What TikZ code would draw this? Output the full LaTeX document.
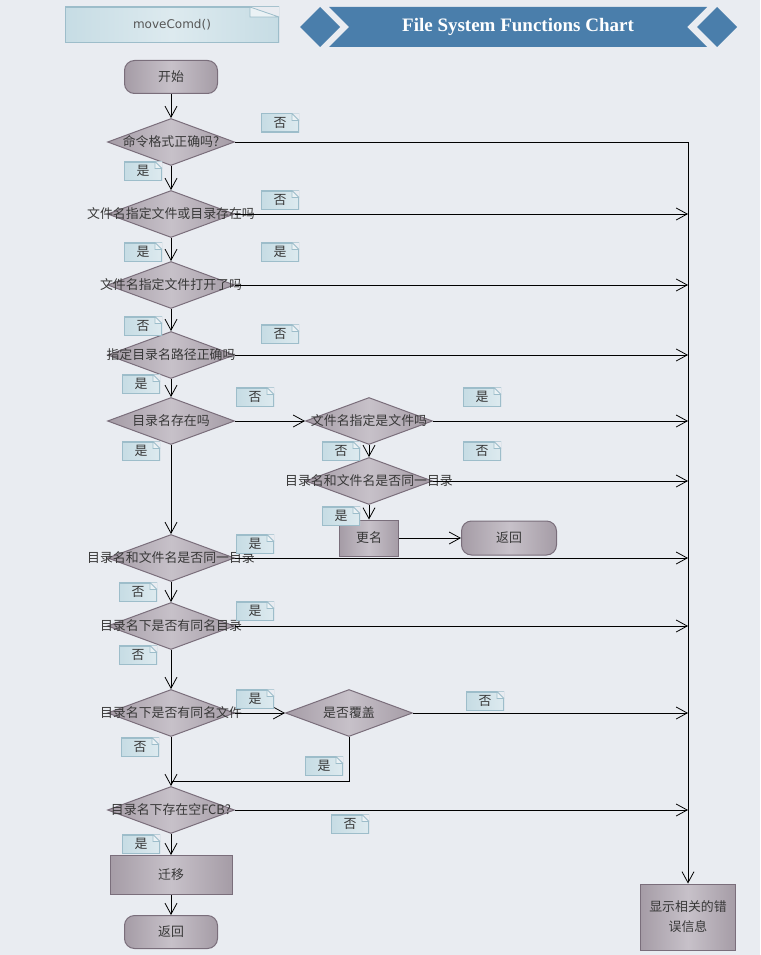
\documentclass[tikz,border=0pt]{standalone}
\usepackage{fontspec}
\newfontfamily\cjkfont{Noto Sans CJK SC}
\newfontfamily\headfont{Liberation Serif}
\newfontfamily\memofont{DejaVu Sans}
\usetikzlibrary{shapes.geometric}
\usetikzlibrary{arrows.meta}

\definecolor{pagebg}{HTML}{E9ECF1}
\definecolor{shapeA}{HTML}{A59CA6}
\definecolor{shapeB}{HTML}{C7C1C9}
\definecolor{shapeedge}{HTML}{7A6E7B}
\definecolor{tagA}{HTML}{C6DCE4}
\definecolor{tagB}{HTML}{DDEAEF}
\definecolor{tagedge}{HTML}{9DBDCA}
\definecolor{inktext}{HTML}{383838}
\definecolor{titleblue}{HTML}{4A7EAB}

\tikzset{
  folded/.style 2 args={path picture={
    \draw[tagedge, line width=2pt] (path picture bounding box.south west) rectangle (path picture bounding box.north east);
    \fill[pagebg] ([xshift=-#1]path picture bounding box.north east) -- (path picture bounding box.north east) -- ([yshift=-#2]path picture bounding box.north east) -- cycle;
    \filldraw[draw=tagedge, fill=tagB!60!white, line width=0.8pt] ([xshift=-#1]path picture bounding box.north east) |- ([yshift=-#2]path picture bounding box.north east) -- cycle;
  }},
  cjk/.style={font=\cjkfont\fontsize{12.9}{15}\selectfont, text=inktext},
  decision/.style={diamond, draw=shapeedge, minimum width=127pt, minimum height=47pt, inner sep=0pt,
    left color=shapeA, right color=shapeA, middle color=shapeB, cjk,
    execute at begin node={\hbox to 0pt\bgroup\hss}, execute at end node={\hss\egroup}},
  process/.style={rectangle, draw=shapeedge, inner sep=0pt, left color=shapeA, right color=shapeA, middle color=shapeB, cjk},
  terminal/.style={process, rounded corners=10pt, minimum width=93pt, minimum height=33pt},
  tag/.style={folded={7pt}{7pt}, minimum width=38pt, minimum height=19pt, inner sep=0pt, left color=tagA, right color=tagB, cjk},
  memo/.style={folded={29pt}{10pt}, minimum width=214pt, minimum height=36pt, inner sep=0pt,
    left color=tagA, right color=tagA, middle color=tagB, font=\memofont\fontsize{12}{14}\selectfont, text=inktext!85!white},
}

\begin{document}
\begin{tikzpicture}[x=1pt, y=-1pt, line width=1pt, >={Straight Barb[length=11pt, width=12pt, line width=0.8pt]}]
    \useasboundingbox (0,0) rectangle (760,955);
    \fill[pagebg] (0,0) rectangle (760,955);
    % header
    \node[memo] (func) at (172,25) {moveComd()};
    \fill[titleblue] (300,27) -- (320,7) -- (340,27) -- (320,47) -- cycle;
    \fill[titleblue] (329,7) -- (707,7) -- (687,27) -- (707,47) -- (329,47) -- (349,27) -- cycle;
    \fill[titleblue] (697,27) -- (717,7) -- (737,27) -- (717,47) -- cycle;
    \node[font=\headfont\bfseries\fontsize{19}{22}\selectfont, text=white] (title) at (518,27) {File System Functions Chart};
    % main column
    \node[terminal] (start) at (171,77) {开始};
    \node[decision] (d1) at (171,142) {命令格式正确吗?};
    \node[decision] (d2) at (171,214) {文件名指定文件或目录存在吗};
    \node[decision] (d3) at (171,285) {文件名指定文件打开了吗};
    \node[decision] (d4) at (171,355) {指定目录名路径正确吗};
    \node[decision] (d5) at (171,421) {目录名存在吗};
    \node[decision] (d8) at (171,558) {目录名和文件名是否同一目录};
    \node[decision] (d9) at (171,626) {目录名下是否有同名目录};
    \node[decision] (d10) at (171,713) {目录名下是否有同名文件};
    \node[decision] (d12) at (171,810) {目录名下存在空FCB?};
    \node[process, minimum width=122pt, minimum height=39pt] (move) at (171,875) {迁移};
    \node[terminal] (back2) at (171,932) {返回};
    % side branch
    \node[decision] (d6) at (369,421) {文件名指定是文件吗};
    \node[decision] (d7) at (369,481) {目录名和文件名是否同一目录};
    \node[process, minimum width=59pt, minimum height=36pt] (rename) at (369,538) {更名};
    \node[terminal, minimum width=95pt, minimum height=34pt] (back1) at (509,538) {返回};
    \node[decision] (d11) at (349,713) {是否覆盖};
    \coordinate (merge) at (171,781);
    % error box
    \node[process, minimum width=95pt, minimum height=66pt, align=center, font=\cjkfont\fontsize{12.9}{20}\selectfont] (err) at (688,917) {显示相关的错\\误信息};
    % flow
    \draw[->] (start) -- (d1);
    \draw[->] (d1) -- (d2);
    \draw[->] (d2) -- (d3);
    \draw[->] (d3) -- (d4);
    \draw[->] (d4) -- (d5);
    \draw[->] (d5) -- (d8);
    \draw[->] (d5) -- (d6);
    \draw[->] (d6) -- (d7);
    \draw[->] (d7) -- (rename);
    \draw[->] (rename) -- (back1);
    \draw[->] (d8) -- (d9);
    \draw[->] (d9) -- (d10);
    \draw[->] (d10) -- (d11);
    \draw[->] (d10) -- (d12);
    \draw (d11.south) |- (merge);
    \draw[->] (d12) -- (move);
    \draw[->] (move) -- (back2);
    % error exits
    \draw[->] (d1.east) -| (err.north);
    \foreach \d in {d2,d3,d4,d6,d7,d8,d9,d11,d12}
        \draw[->] (\d.east) -- (\d.east -| err.north);
    % yes / no tags
    \node[tag] (n1) at (280,123) {否};
    \node[tag] (y1) at (143,171) {是};
    \node[tag] (n2) at (280,200) {否};
    \node[tag] (y2) at (143,252) {是};
    \node[tag] (y3) at (280,252) {是};
    \node[tag] (n3) at (143,326) {否};
    \node[tag] (n4) at (280,334) {否};
    \node[tag] (y4) at (141,384) {是};
    \node[tag] (n5) at (255,397) {否};
    \node[tag] (y5) at (141,451) {是};
    \node[tag] (y6) at (482,397) {是};
    \node[tag] (n6) at (341,451) {否};
    \node[tag] (n7) at (482,451) {否};
    \node[tag] (y7) at (341,516) {是};
    \node[tag] (y8) at (255,544) {是};
    \node[tag] (n8) at (138,592) {否};
    \node[tag] (y9) at (255,611) {是};
    \node[tag] (n9) at (138,655) {否};
    \node[tag] (y10) at (255,699) {是};
    \node[tag] (n10) at (140,747) {否};
    \node[tag] (n11) at (485,701) {否};
    \node[tag] (y11) at (324,766) {是};
    \node[tag] (n12) at (350,824) {否};
    \node[tag] (y12) at (141,844) {是};
\end{tikzpicture}
\end{document}
